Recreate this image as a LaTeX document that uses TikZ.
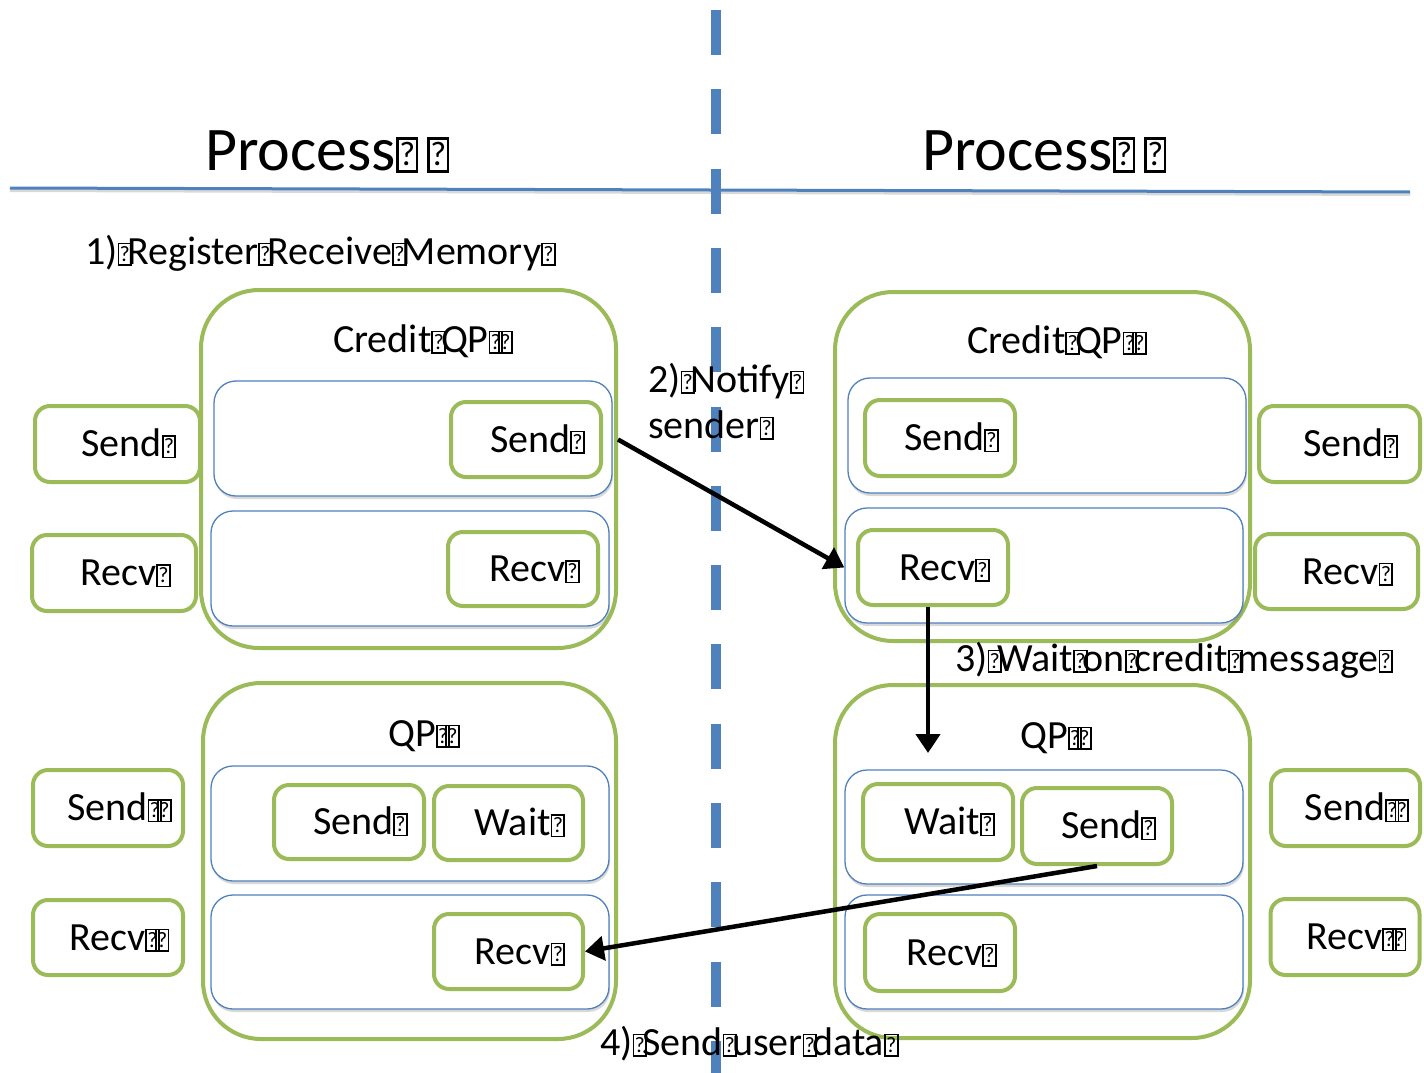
\documentclass[tikz,border=0pt]{standalone}
\usepackage{fontspec}
\setmainfont{Carlito}
\usepackage{graphicx}
\usetikzlibrary{arrows.meta,shadows}
\definecolor{qpgreen}{HTML}{9BBB59}
\definecolor{qpblue}{HTML}{4F81BD}
% missing-glyph box: a framed question mark
\newcommand\qb{\makebox[0.24em][l]{\setlength\fboxsep{0pt}\setlength\fboxrule{0.045em}\fbox{\makebox[0.27em]{\rule{0pt}{0.49em}\raisebox{0.07em}{\scalebox{0.55}{?}}}}}}
\begin{document}
\begin{tikzpicture}[x=1pt,y=-1pt,
  lbl/.style={font=\fontsize{40}{48}\selectfont, inner sep=0pt},
  ttl/.style={font=\fontsize{62}{74}\selectfont, inner sep=0pt},
  grp/.style={draw=qpgreen, line width=4pt, rounded corners=58pt, fill=white, inner sep=0pt},
  lane/.style={draw=qpblue, line width=1.3pt, rounded corners=22pt, fill=white, inner sep=0pt,
    drop shadow={opacity=0.3, shadow xshift=1pt, shadow yshift=-3pt}},
  opbox/.style={draw=qpgreen, line width=4pt, rounded corners=15pt, fill=white, inner sep=0pt,
    font=\fontsize{40}{48}\selectfont, text height=25pt, text depth=0pt},
  flow/.style={line width=4.5pt, -{Triangle[length=19pt,width=24pt]}},
]
\useasboundingbox (0,0) rectangle (1424,1073);

% header rule and process divider
\coordinate (rulel) at (10,188);
\coordinate (ruler) at (1410,192);
\draw[black!30, line width=3pt, opacity=0.5] ([yshift=-2.5pt]rulel) -- ([yshift=-2.5pt]ruler);
\draw[qpblue, line width=3pt] (rulel) -- (ruler);
\coordinate (divtop) at (716,10);
\coordinate (divbot) at (716,1073);
\draw[qpblue, line width=10pt, dash pattern=on 45pt off 34.3pt] (divtop) -- (divbot);

% titles
\node[ttl, anchor=base west] (t1) at (205,170) {Process\qb\hspace{0.26em}\qb};
\node[ttl, anchor=base west] (t2) at (922,170) {Process\qb\hspace{0.26em}\qb};

% ---------------- left process ----------------
\node[grp, minimum width=415, minimum height=358] (lcq) at (408.5,469) {};
\node[lbl, anchor=base west] (lcqt) at (333,352) {Credit\qb QP\qb\qb};
\node[lane, minimum width=398, minimum height=115] (lq1) at (413,438.5) {};
\node[lane, minimum width=398, minimum height=115] (lq2) at (410,568.5) {};
\node[opbox, minimum width=150, minimum height=75] (lsend) at (526,439.5) {\hspace*{0.45em}Send\qb};
\node[opbox, minimum width=150, minimum height=74] (lrecv) at (523,569) {\hspace*{0.45em}Recv\qb};
\node[opbox, minimum width=165, minimum height=76] (lsendo) at (117.5,444) {\hspace*{0.45em}Send\qb};
\node[opbox, minimum width=164, minimum height=76] (lrecvo) at (114,573) {\hspace*{0.45em}Recv\qb};

\node[grp, minimum width=413, minimum height=356] (lqp) at (409.5,861) {};
\node[lbl, anchor=base west] (lqpt) at (388,746) {QP\qb\qb};
\node[lane, minimum width=398, minimum height=115] (lq3) at (410,823.5) {};
\node[lane, minimum width=398, minimum height=114] (lq4) at (410,952) {};
\node[opbox, minimum width=150, minimum height=74] (lsend2) at (349,822) {\hspace*{0.45em}Send\qb};
\node[opbox, minimum width=149, minimum height=74] (lwait) at (508.5,823) {\hspace*{0.45em}Wait\qb};
\node[opbox, minimum width=149, minimum height=75] (lrecv2) at (508.5,951.5) {\hspace*{0.45em}Recv\qb};
\node[opbox, minimum width=150, minimum height=76] (lsendo2) at (108,808) {\hspace*{0.45em}Send\qb\qb};
\node[opbox, minimum width=150, minimum height=75] (lrecvo2) at (108,937.5) {\hspace*{0.45em}Recv\qb\qb};

% ---------------- right process ----------------
\node[grp, minimum width=415, minimum height=349] (rcq) at (1042.5,466.5) {};
\node[lbl, anchor=base west] (rcqt) at (967,353) {Credit\qb QP\qb\qb};
\node[lane, minimum width=398, minimum height=115] (rq1) at (1047,435.5) {};
\node[lane, minimum width=398, minimum height=115] (rq2) at (1044,565.5) {};
\node[opbox, minimum width=150, minimum height=76] (rsend) at (940,438) {\hspace*{0.45em}Send\qb};
\node[opbox, minimum width=150, minimum height=75] (rrecv) at (933,567.5) {\hspace*{0.45em}Recv\qb};
\node[opbox, minimum width=161, minimum height=76] (rsendo) at (1339.5,444) {\hspace*{0.45em}Send\qb};
\node[opbox, minimum width=163, minimum height=75] (rrecvo) at (1336.5,571.5) {\hspace*{0.45em}Recv\qb};

\node[grp, minimum width=415, minimum height=353] (rqp) at (1042.5,861.5) {};
\node[lbl, anchor=base west] (rqpt) at (1020,748) {QP\qb\qb};
\node[lane, minimum width=398, minimum height=114] (rq3) at (1044,827) {};
\node[lane, minimum width=398, minimum height=114] (rq4) at (1044,952) {};
\node[opbox, minimum width=150, minimum height=76] (rwait) at (938,822) {\hspace*{0.45em}Wait\qb};
\node[opbox, minimum width=150, minimum height=76] (rsend2) at (1097,826) {\hspace*{0.45em}Send\qb};
\node[opbox, minimum width=150, minimum height=77] (rrecv3) at (940,952.5) {\hspace*{0.45em}Recv\qb};
\node[opbox, minimum width=149, minimum height=76] (rsendo2) at (1345.5,808) {\hspace*{0.45em}Send\qb\qb};
\node[opbox, minimum width=149, minimum height=76] (rrecvo2) at (1345,937) {\hspace*{0.45em}Recv\qb\qb};

% ---------------- step labels ----------------
\node[lbl, anchor=base west] (s1) at (85,264) {1)\qb Register\qb Receive\qb Memory\qb};
\node[lbl, anchor=base west] (s2a) at (648,392) {2)\qb Notify\qb};
\node[lbl, anchor=base west] (s2b) at (648,438) {sender\qb};
\node[lbl, anchor=base west] (s3) at (955,671) {3)\qb Wait\qb on\qb credit\qb message\qb};
\node[lbl, anchor=base west] (s4) at (600,1055) {4)\qb Send\qb user\qb data\qb};

% ---------------- message flow ----------------
\coordinate (a3end) at (928,753);
\draw[flow] (lcq.east |- lsend) -- (rq2.west |- rrecv);
\draw[flow] ([xshift=-5pt]rrecv.south) -- (a3end);
\draw[flow] (rsend2.south) -- (lrecv2.east);
\end{tikzpicture}
\end{document}
